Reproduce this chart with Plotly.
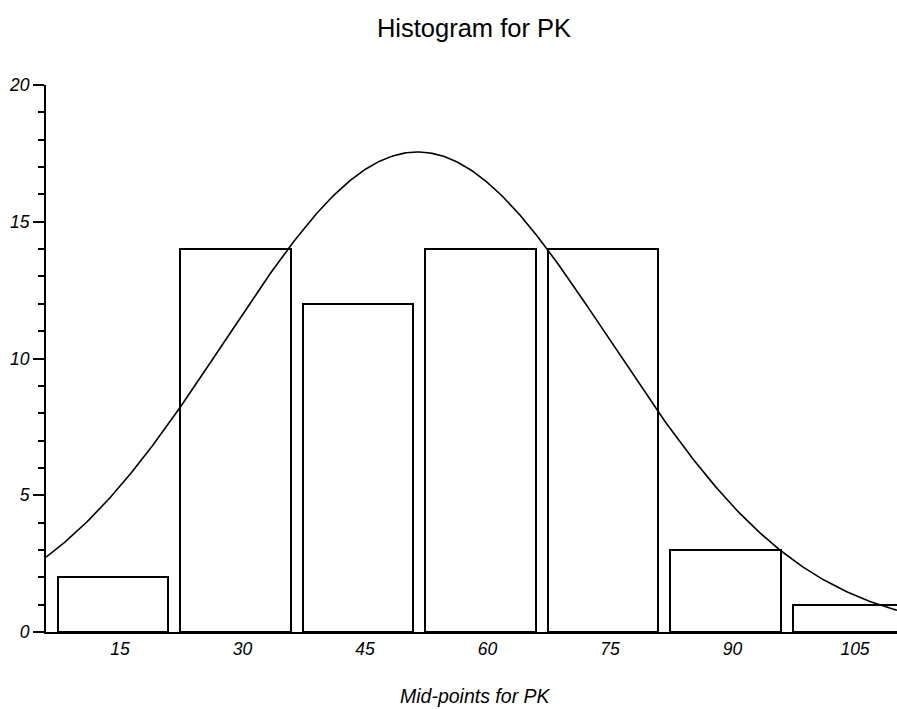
import numpy as np
import plotly.graph_objects as go

# Histogram bins (mid-points) and counts
midpoints = [15, 30, 45, 60, 75, 90, 105]
counts = [2, 14, 12, 14, 14, 3, 1]
tick_labels = ["15", "30", "45", "60", "75", "90", "105"]

# Fitted normal curve parameters (peak height, mean, standard deviation)
curve_peak = 17.55
curve_mean = 52.3
curve_sd = 23.6

x_range = [6.8, 111.0]
y_range = [0, 20]

xs = np.linspace(x_range[0], x_range[1], 400)
ys = curve_peak * np.exp(-((xs - curve_mean) ** 2) / (2 * curve_sd ** 2))

fig = go.Figure()
fig.add_trace(go.Bar(
    x=midpoints, y=counts, width=13.5,
    marker=dict(color="white", line=dict(color="black", width=2)),
    hoverinfo="x+y",
))
fig.add_trace(go.Scatter(
    x=xs, y=ys, mode="lines",
    line=dict(color="black", width=1.6),
    hoverinfo="skip",
))

FONT = "Liberation Sans, Arial, sans-serif"
italic = dict(family=FONT, size=17.5, color="black", style="italic")

fig.update_layout(
    width=897, height=709,
    margin=dict(l=46, r=0, t=85, b=77),
    paper_bgcolor="white", plot_bgcolor="white",
    showlegend=False,
    title=dict(text="Histogram for PK", x=474 / 897, xanchor="center", y=0.961, yanchor="middle",
               font=dict(family=FONT, size=25.5, color="black")),
    xaxis=dict(
        range=x_range, showgrid=False, zeroline=False,
        showline=True, linecolor="black", linewidth=2,
        tickmode="array", tickvals=midpoints, ticktext=tick_labels,
        ticks="", tickfont=italic, ticklabelshift=7,
    ),
    yaxis=dict(
        range=y_range, showgrid=False, zeroline=False,
        showline=True, linecolor="black", linewidth=2,
        tickmode="linear", tick0=0, dtick=5,
        ticks="outside", ticklen=11, tickwidth=1.5, tickcolor="black",
        tickfont=italic,
        minor=dict(dtick=1, ticks="outside", ticklen=6, tickwidth=1.5, tickcolor="black", showgrid=False),
    ),
    bargap=0,
    annotations=[dict(
        text="Mid-points for PK", xref="paper", yref="paper",
        x=(475 - 46) / 851, y=-64 / 547, xanchor="center", yanchor="middle",
        showarrow=False, font=dict(family=FONT, size=19.5, color="black", style="italic"),
    )],
)

fig.write_html("out.html")
